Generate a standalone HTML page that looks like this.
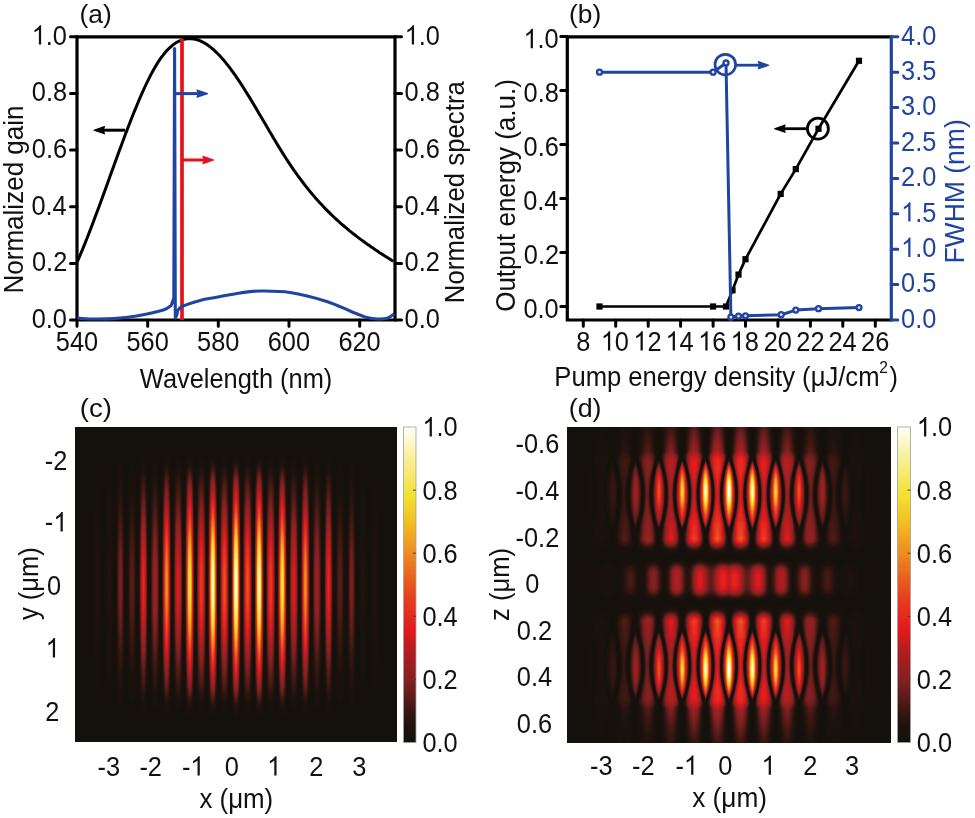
<!DOCTYPE html>
<html><head><meta charset="utf-8">
<style>
html,body{margin:0;padding:0;background:#fff;width:975px;height:818px;overflow:hidden}
body{position:relative;font-family:"Liberation Sans",sans-serif}
canvas{position:absolute;background:#14100b}
svg{position:absolute;left:0;top:0}
svg text{font-family:"Liberation Sans",sans-serif}
</style></head><body>
<canvas id="cc" width="322" height="315" style="left:75px;top:427px"></canvas>
<canvas id="cd" width="324" height="316" style="left:567px;top:427px"></canvas>
<svg width="975" height="818" viewBox="0 0 975 818">
<defs><linearGradient id="cbar" x1="0" y1="1" x2="0" y2="0">
<stop offset="0" stop-color="#14100b"/>
<stop offset="0.05" stop-color="#1e120d"/>
<stop offset="0.1" stop-color="#3a1711"/>
<stop offset="0.15" stop-color="#601c1a"/>
<stop offset="0.2" stop-color="#842022"/>
<stop offset="0.3" stop-color="#ba1c20"/>
<stop offset="0.36" stop-color="#e41a1c"/>
<stop offset="0.45" stop-color="#e63c1e"/>
<stop offset="0.52" stop-color="#e8601e"/>
<stop offset="0.6" stop-color="#ee8c20"/>
<stop offset="0.7" stop-color="#f2c022"/>
<stop offset="0.78" stop-color="#f4e030"/>
<stop offset="0.9" stop-color="#f8f098"/>
<stop offset="1" stop-color="#fffff4"/>
</linearGradient></defs>
<g fill="none" stroke="#000" stroke-width="3.2"><path d="M77,36.8H395 M77,35.2V321.6 M75.4,320H396.6 M395,35.2V321.6"/></g>
<path d="M70.5,320H77 M395,320H401.5 M70.5,263.4H77 M395,263.4H401.5 M70.5,206.7H77 M395,206.7H401.5 M70.5,150.1H77 M395,150.1H401.5 M70.5,93.4H77 M395,93.4H401.5 M70.5,36.8H77 M395,36.8H401.5 M77,320V326.2 M147.7,320V326.2 M218.3,320V326.2 M289,320V326.2 M359.7,320V326.2 " fill="none" stroke="#000" stroke-width="3.0" stroke-linecap="round"/>
<path fill="none" stroke="#000" stroke-width="3" d="M77.3,261.7 L79.3,257.1 L81.3,252.3 L83.3,247.5 L85.3,242.6 L87.3,237.5 L89.3,232.4 L91.3,227.2 L93.3,222.0 L95.3,216.6 L97.3,211.3 L99.3,205.9 L101.3,200.4 L103.3,194.9 L105.3,189.4 L107.3,183.9 L109.3,178.3 L111.3,172.8 L113.3,167.3 L115.3,161.7 L117.3,156.2 L119.3,150.8 L121.3,145.4 L123.3,140.0 L125.3,134.6 L127.3,129.4 L129.3,124.2 L131.3,119.0 L133.3,114.0 L135.3,109.1 L137.3,104.2 L139.3,99.5 L141.3,94.9 L143.3,90.4 L145.3,86.0 L147.3,81.8 L149.3,77.8 L151.3,73.9 L153.3,70.2 L155.3,66.7 L157.3,63.4 L159.3,60.3 L161.3,57.4 L163.3,54.8 L165.3,52.3 L167.3,50.1 L169.3,48.1 L171.3,46.3 L173.3,44.6 L175.3,43.2 L177.3,42.0 L179.3,41.0 L181.3,40.2 L183.3,39.5 L185.3,39.0 L187.3,38.7 L189.3,38.6 L191.3,38.7 L193.3,38.9 L195.3,39.3 L197.3,39.8 L199.3,40.5 L201.3,41.4 L203.3,42.4 L205.3,43.5 L207.3,44.8 L209.3,46.2 L211.3,47.8 L213.3,49.5 L215.3,51.3 L217.3,53.2 L219.3,55.3 L221.3,57.4 L223.3,59.7 L225.3,62.1 L227.3,64.6 L229.3,67.2 L231.3,69.8 L233.3,72.6 L235.3,75.4 L237.3,78.4 L239.3,81.3 L241.3,84.4 L243.3,87.5 L245.3,90.7 L247.3,93.9 L249.3,97.1 L251.3,100.4 L253.3,103.7 L255.3,107.1 L257.3,110.5 L259.3,113.9 L261.3,117.3 L263.3,120.7 L265.3,124.1 L267.3,127.5 L269.3,130.9 L271.3,134.3 L273.3,137.7 L275.3,141.0 L277.3,144.4 L279.3,147.6 L281.3,150.9 L283.3,154.1 L285.3,157.3 L287.3,160.4 L289.3,163.4 L291.3,166.4 L293.3,169.3 L295.3,172.2 L297.3,175.0 L299.3,177.7 L301.3,180.4 L303.3,183.0 L305.3,185.6 L307.3,188.1 L309.3,190.6 L311.3,193.0 L313.3,195.4 L315.3,197.7 L317.3,199.9 L319.3,202.2 L321.3,204.3 L323.3,206.5 L325.3,208.6 L327.3,210.6 L329.3,212.6 L331.3,214.6 L333.3,216.5 L335.3,218.4 L337.3,220.2 L339.3,222.0 L341.3,223.8 L343.3,225.5 L345.3,227.2 L347.3,228.9 L349.3,230.6 L351.3,232.2 L353.3,233.8 L355.3,235.3 L357.3,236.9 L359.3,238.4 L361.3,239.9 L363.3,241.3 L365.3,242.8 L367.3,244.2 L369.3,245.6 L371.3,247.0 L373.3,248.3 L375.3,249.7 L377.3,251.0 L379.3,252.4 L381.3,253.7 L383.3,255.0 L385.3,256.3 L387.3,257.5 L389.3,258.8 L391.3,260.1 L393.3,261.3"/>
<path d="M182,320V39" stroke="#e5111b" stroke-width="3.7" fill="none"/>
<path fill="none" stroke="#2044a0" stroke-width="3.1" stroke-linejoin="round" d="M77.3,318C79.42,318.17 83.88,318.90 90,319C96.12,319.10 106.22,319.10 114,318.6C121.78,318.10 128.48,317.43 136.7,316C144.92,314.57 157.53,311.78 163.3,310C169.07,308.22 169.97,306.08 171.3,305.3 L173.8,298 L174.6,48.5 L175.3,318 L176.7,315.3C177.37,313.97 176.82,309.77 180.7,307.3C184.58,304.83 194.02,302.17 200,300.5C205.98,298.83 209.93,298.55 216.6,297.3C223.27,296.05 232.65,294.05 240,293C247.35,291.95 252.37,291.08 260.7,291C269.03,290.92 279.00,290.77 290,292.5C301.00,294.23 316.70,298.32 326.7,301.4C336.70,304.48 343.28,308.30 350,311C356.72,313.70 362.33,316.27 367,317.6C371.67,318.93 374.50,318.93 378,319C381.50,319.07 385.25,318.92 388,318C390.75,317.08 393.42,314.25 394.5,313.5"/>
<path d="M125,130.2H102" stroke="#000" stroke-width="3" fill="none"/>
<path d="M94,130.2L104.5,126.6L103,130.2L104.5,133.8Z" fill="#000" stroke="#000" stroke-width="1.2" stroke-linejoin="round"/>
<path d="M175,93.6H199" stroke="#2044a0" stroke-width="3" fill="none"/>
<path d="M207.5,93.6L197,90L198.5,93.6L197,97.2Z" fill="#2044a0" stroke="#2044a0" stroke-width="1.2" stroke-linejoin="round"/>
<path d="M183,160H205" stroke="#e5111b" stroke-width="3" fill="none"/>
<path d="M213.5,160L203,156.4L204.5,160L203,163.6Z" fill="#e5111b" stroke="#e5111b" stroke-width="1.2" stroke-linejoin="round"/>
<text transform="translate(79.55,23.00) scale(1.0021,1)" font-size="26.4" fill="#111">(a)</text>
<text transform="translate(31.67,327.80) scale(0.9400,1)" font-size="27.0" fill="#111">0.0</text>
<text transform="translate(404.58,327.80) scale(0.9400,1)" font-size="27.0" fill="#111">0.0</text>
<text transform="translate(31.99,271.20) scale(0.9400,1)" font-size="27.0" fill="#111">0.2</text>
<text transform="translate(404.58,271.20) scale(0.9400,1)" font-size="27.0" fill="#111">0.2</text>
<text transform="translate(31.42,214.50) scale(0.9400,1)" font-size="27.0" fill="#111">0.4</text>
<text transform="translate(404.58,214.50) scale(0.9400,1)" font-size="27.0" fill="#111">0.4</text>
<text transform="translate(31.80,157.90) scale(0.9400,1)" font-size="27.0" fill="#111">0.6</text>
<text transform="translate(404.58,157.90) scale(0.9400,1)" font-size="27.0" fill="#111">0.6</text>
<text transform="translate(31.80,101.20) scale(0.9400,1)" font-size="27.0" fill="#111">0.8</text>
<text transform="translate(404.58,101.20) scale(0.9400,1)" font-size="27.0" fill="#111">0.8</text>
<text transform="translate(31.67,44.60) scale(0.9400,1)" font-size="27.0" fill="#111"> .0</text>
<path transform="translate(31.67,44.60) scale(0.9400,1) translate(0.000,0) scale(0.01318,-0.01318)" d="M763,0H583V1147Q518,1085 413,1023Q308,961 225,930V1104Q376,1175 489,1276Q602,1377 649,1472H763Z" fill="#111"/>
<text transform="translate(404.58,44.60) scale(0.9400,1)" font-size="27.0" fill="#111"> .0</text>
<path transform="translate(404.58,44.60) scale(0.9400,1) translate(0.000,0) scale(0.01318,-0.01318)" d="M763,0H583V1147Q518,1085 413,1023Q308,961 225,930V1104Q376,1175 489,1276Q602,1377 649,1472H763Z" fill="#111"/>
<text transform="translate(55.81,350.60) scale(0.9400,1)" font-size="27.0" fill="#111">540</text>
<text transform="translate(126.51,350.60) scale(0.9400,1)" font-size="27.0" fill="#111">560</text>
<text transform="translate(197.11,350.60) scale(0.9400,1)" font-size="27.0" fill="#111">580</text>
<text transform="translate(267.68,350.60) scale(0.9400,1)" font-size="27.0" fill="#111">600</text>
<text transform="translate(338.38,350.60) scale(0.9400,1)" font-size="27.0" fill="#111">620</text>
<text transform="translate(139.87,387.90) scale(0.9407,1)" font-size="27.0" fill="#111">Wavelength (nm)</text>
<text transform="translate(23.30,293.55) rotate(-90) scale(0.9646,1)" font-size="27.0" fill="#111">Normalized gain</text>
<text transform="translate(464.10,303.13) rotate(-90) scale(0.9550,1)" font-size="27.0" fill="#111">Normalized spectra</text>
<g fill="none" stroke="#000" stroke-width="3.2"><path d="M567.3,36.8H891.3 M567.3,35.2V321.6 M565.7,320H891.3"/></g>
<path d="M891.3,35.2V321.6" fill="none" stroke="#2044a0" stroke-width="3.2"/>
<path d="M560.8,306.5H567.3 M560.8,252.5H567.3 M560.8,198.5H567.3 M560.8,144.5H567.3 M560.8,90.5H567.3 M560.8,36.5H567.3 M583.3,320V326.2 M615.7,320V326.2 M648.2,320V326.2 M680.6,320V326.2 M713.1,320V326.2 M745.5,320V326.2 M777.9,320V326.2 M810.4,320V326.2 M842.8,320V326.2 M875.3,320V326.2 " fill="none" stroke="#000" stroke-width="3.0" stroke-linecap="round"/>
<path d="M891.3,320.0H897.8 M891.3,284.6H897.8 M891.3,249.2H897.8 M891.3,213.8H897.8 M891.3,178.4H897.8 M891.3,143.0H897.8 M891.3,107.6H897.8 M891.3,72.2H897.8 M891.3,36.8H897.8 " fill="none" stroke="#2044a0" stroke-width="3.0" stroke-linecap="round"/>
<path d="M599.5,306.5 L713.1,306.5 L726.0,306.5 L732.5,290.3 L738.5,274.6 L745.5,259.2 L780.7,193.9 L795.8,169.1 L818.5,128.8 L859.0,60.8" fill="none" stroke="#000" stroke-width="2.7"/>
<rect x="596.4" y="303.4" width="6.2" height="6.2" fill="#000"/>
<rect x="710.0" y="303.4" width="6.2" height="6.2" fill="#000"/>
<rect x="722.9" y="303.4" width="6.2" height="6.2" fill="#000"/>
<rect x="729.4" y="287.2" width="6.2" height="6.2" fill="#000"/>
<rect x="735.4" y="271.5" width="6.2" height="6.2" fill="#000"/>
<rect x="742.4" y="256.1" width="6.2" height="6.2" fill="#000"/>
<rect x="777.6" y="190.8" width="6.2" height="6.2" fill="#000"/>
<rect x="792.7" y="166.0" width="6.2" height="6.2" fill="#000"/>
<rect x="815.4" y="125.7" width="6.2" height="6.2" fill="#000"/>
<rect x="855.9" y="57.7" width="6.2" height="6.2" fill="#000"/>
<path d="M599.5,72.2 L713.1,72.2 L726.0,63.0 L730.9,317.2 L738.5,316.1 L745.5,315.8 L781.2,314.7 L795.8,310.1 L818.5,308.7 L859.0,307.6" fill="none" stroke="#2044a0" stroke-width="3" stroke-linejoin="round"/>
<circle cx="599.5" cy="72.2" r="2.5" fill="#e4e8f4" stroke="#2044a0" stroke-width="2.3"/>
<circle cx="713.1" cy="72.2" r="2.5" fill="#e4e8f4" stroke="#2044a0" stroke-width="2.3"/>
<circle cx="726.0" cy="63.0" r="2.5" fill="#e4e8f4" stroke="#2044a0" stroke-width="2.3"/>
<circle cx="730.9" cy="317.2" r="2.5" fill="#e4e8f4" stroke="#2044a0" stroke-width="2.3"/>
<circle cx="738.5" cy="316.1" r="2.5" fill="#e4e8f4" stroke="#2044a0" stroke-width="2.3"/>
<circle cx="745.5" cy="315.8" r="2.5" fill="#e4e8f4" stroke="#2044a0" stroke-width="2.3"/>
<circle cx="781.2" cy="314.7" r="2.5" fill="#e4e8f4" stroke="#2044a0" stroke-width="2.3"/>
<circle cx="795.8" cy="310.1" r="2.5" fill="#e4e8f4" stroke="#2044a0" stroke-width="2.3"/>
<circle cx="818.5" cy="308.7" r="2.5" fill="#e4e8f4" stroke="#2044a0" stroke-width="2.3"/>
<circle cx="859.0" cy="307.6" r="2.5" fill="#e4e8f4" stroke="#2044a0" stroke-width="2.3"/>
<circle cx="725.3" cy="64.6" r="10.3" fill="none" stroke="#2044a0" stroke-width="2.7"/>
<path d="M736,65.2H761" stroke="#2044a0" stroke-width="2.8" fill="none"/>
<path d="M768.8,65.2L758.3,61.6L759.8,65.2L758.3,68.8Z" fill="#2044a0" stroke="#2044a0" stroke-width="1.2" stroke-linejoin="round"/>
<circle cx="817.9" cy="128.7" r="10.5" fill="none" stroke="#000" stroke-width="2.8"/>
<path d="M807.5,128.7H782" stroke="#000" stroke-width="2.8" fill="none"/>
<path d="M774.6,128.7L785.1,125.1L783.6,128.7L785.1,132.3Z" fill="#000" stroke="#000" stroke-width="1.2" stroke-linejoin="round"/>
<text transform="translate(568.95,23.00) scale(0.9986,1)" font-size="26.4" fill="#111">(b)</text>
<text transform="translate(523.47,318.20) scale(0.9400,1)" font-size="27.0" fill="#111">0.0</text>
<text transform="translate(523.79,264.20) scale(0.9400,1)" font-size="27.0" fill="#111">0.2</text>
<text transform="translate(523.22,210.20) scale(0.9400,1)" font-size="27.0" fill="#111">0.4</text>
<text transform="translate(523.60,156.20) scale(0.9400,1)" font-size="27.0" fill="#111">0.6</text>
<text transform="translate(523.60,102.20) scale(0.9400,1)" font-size="27.0" fill="#111">0.8</text>
<text transform="translate(523.47,48.20) scale(0.9400,1)" font-size="27.0" fill="#111"> .0</text>
<path transform="translate(523.47,48.20) scale(0.9400,1) translate(0.000,0) scale(0.01318,-0.01318)" d="M763,0H583V1147Q518,1085 413,1023Q308,961 225,930V1104Q376,1175 489,1276Q602,1377 649,1472H763Z" fill="#111"/>
<text transform="translate(901.03,327.80) scale(0.9400,1)" font-size="27.0" fill="#2044a0">0.0</text>
<text transform="translate(901.03,292.40) scale(0.9400,1)" font-size="27.0" fill="#2044a0">0.5</text>
<text transform="translate(901.03,257.00) scale(0.9400,1)" font-size="27.0" fill="#2044a0"> .0</text>
<path transform="translate(901.03,257.00) scale(0.9400,1) translate(0.000,0) scale(0.01318,-0.01318)" d="M763,0H583V1147Q518,1085 413,1023Q308,961 225,930V1104Q376,1175 489,1276Q602,1377 649,1472H763Z" fill="#2044a0"/>
<text transform="translate(901.03,221.60) scale(0.9400,1)" font-size="27.0" fill="#2044a0"> .5</text>
<path transform="translate(901.03,221.60) scale(0.9400,1) translate(0.000,0) scale(0.01318,-0.01318)" d="M763,0H583V1147Q518,1085 413,1023Q308,961 225,930V1104Q376,1175 489,1276Q602,1377 649,1472H763Z" fill="#2044a0"/>
<text transform="translate(901.03,186.20) scale(0.9400,1)" font-size="27.0" fill="#2044a0">2.0</text>
<text transform="translate(901.03,150.80) scale(0.9400,1)" font-size="27.0" fill="#2044a0">2.5</text>
<text transform="translate(901.03,115.40) scale(0.9400,1)" font-size="27.0" fill="#2044a0">3.0</text>
<text transform="translate(901.03,80.00) scale(0.9400,1)" font-size="27.0" fill="#2044a0">3.5</text>
<text transform="translate(901.03,44.60) scale(0.9400,1)" font-size="27.0" fill="#2044a0">4.0</text>
<text transform="translate(576.26,350.60) scale(0.9400,1)" font-size="27.0" fill="#111">8</text>
<text transform="translate(600.74,350.60) scale(0.9400,1)" font-size="27.0" fill="#111"> 0</text>
<path transform="translate(600.74,350.60) scale(0.9400,1) translate(0.000,0) scale(0.01318,-0.01318)" d="M763,0H583V1147Q518,1085 413,1023Q308,961 225,930V1104Q376,1175 489,1276Q602,1377 649,1472H763Z" fill="#111"/>
<text transform="translate(633.33,350.60) scale(0.9400,1)" font-size="27.0" fill="#111"> 2</text>
<path transform="translate(633.33,350.60) scale(0.9400,1) translate(0.000,0) scale(0.01318,-0.01318)" d="M763,0H583V1147Q518,1085 413,1023Q308,961 225,930V1104Q376,1175 489,1276Q602,1377 649,1472H763Z" fill="#111"/>
<text transform="translate(665.49,350.60) scale(0.9400,1)" font-size="27.0" fill="#111"> 4</text>
<path transform="translate(665.49,350.60) scale(0.9400,1) translate(0.000,0) scale(0.01318,-0.01318)" d="M763,0H583V1147Q518,1085 413,1023Q308,961 225,930V1104Q376,1175 489,1276Q602,1377 649,1472H763Z" fill="#111"/>
<text transform="translate(698.12,350.60) scale(0.9400,1)" font-size="27.0" fill="#111"> 6</text>
<path transform="translate(698.12,350.60) scale(0.9400,1) translate(0.000,0) scale(0.01318,-0.01318)" d="M763,0H583V1147Q518,1085 413,1023Q308,961 225,930V1104Q376,1175 489,1276Q602,1377 649,1472H763Z" fill="#111"/>
<text transform="translate(730.56,350.60) scale(0.9400,1)" font-size="27.0" fill="#111"> 8</text>
<path transform="translate(730.56,350.60) scale(0.9400,1) translate(0.000,0) scale(0.01318,-0.01318)" d="M763,0H583V1147Q518,1085 413,1023Q308,961 225,930V1104Q376,1175 489,1276Q602,1377 649,1472H763Z" fill="#111"/>
<text transform="translate(763.70,350.60) scale(0.9400,1)" font-size="27.0" fill="#111">20</text>
<text transform="translate(796.29,350.60) scale(0.9400,1)" font-size="27.0" fill="#111">22</text>
<text transform="translate(828.45,350.60) scale(0.9400,1)" font-size="27.0" fill="#111">24</text>
<text transform="translate(861.08,350.60) scale(0.9400,1)" font-size="27.0" fill="#111">26</text>
<text transform="translate(554.29,385.60) scale(0.9495,1)" font-size="27.0" fill="#111">Pump energy density (μJ/cm</text>
<text transform="translate(879.22,373.30) scale(1.0003,1)" font-size="15.6" fill="#111">2</text>
<text transform="translate(889.51,385.60) scale(0.9400,1)" font-size="27.0" fill="#111">)</text>
<text transform="translate(514.60,311.84) rotate(-90) scale(0.9638,1)" font-size="27.0" fill="#111">Output energy (a.u.)</text>
<text transform="translate(964.00,263.59) rotate(-90) scale(0.9825,1)" font-size="27.0" fill="#2044a0">FWHM (nm)</text>
<text transform="translate(79.77,416.50) scale(1.0464,1)" font-size="26.4" fill="#111">(c)</text>
<rect x="403.5" y="427" width="12.5" height="315.5" fill="url(#cbar)" stroke="#a0a0a0" stroke-width="0.8"/>
<path d="M413.0,679.4H416.0 M413.0,616.3H416.0 M413.0,553.2H416.0 M413.0,490.1H416.0 " stroke="#444" stroke-width="1"/>
<text transform="translate(422.41,751.90) scale(0.9400,1)" font-size="27.0" fill="#111">0.0</text>
<text transform="translate(422.41,688.80) scale(0.9400,1)" font-size="27.0" fill="#111">0.2</text>
<text transform="translate(422.41,625.70) scale(0.9400,1)" font-size="27.0" fill="#111">0.4</text>
<text transform="translate(422.41,562.60) scale(0.9400,1)" font-size="27.0" fill="#111">0.6</text>
<text transform="translate(422.41,499.50) scale(0.9400,1)" font-size="27.0" fill="#111">0.8</text>
<text transform="translate(422.41,436.40) scale(0.9400,1)" font-size="27.0" fill="#111"> .0</text>
<path transform="translate(422.41,436.40) scale(0.9400,1) translate(0.000,0) scale(0.01318,-0.01318)" d="M763,0H583V1147Q518,1085 413,1023Q308,961 225,930V1104Q376,1175 489,1276Q602,1377 649,1472H763Z" fill="#111"/>
<text transform="translate(97.61,775.60) scale(0.9400,1)" font-size="27.0" fill="#111">-3</text>
<text transform="translate(139.40,775.60) scale(0.9400,1)" font-size="27.0" fill="#111">-2</text>
<text transform="translate(181.88,775.60) scale(0.9400,1)" font-size="27.0" fill="#111">- </text>
<path transform="translate(181.88,775.60) scale(0.9400,1) translate(8.991,0) scale(0.01318,-0.01318)" d="M763,0H583V1147Q518,1085 413,1023Q308,961 225,930V1104Q376,1175 489,1276Q602,1377 649,1472H763Z" fill="#111"/>
<text transform="translate(224.73,775.60) scale(0.9400,1)" font-size="27.0" fill="#111">0</text>
<path transform="translate(267.08,775.60) scale(0.9400,1) translate(0.000,0) scale(0.01318,-0.01318)" d="M763,0H583V1147Q518,1085 413,1023Q308,961 225,930V1104Q376,1175 489,1276Q602,1377 649,1472H763Z" fill="#111"/>
<text transform="translate(309.16,775.60) scale(0.9400,1)" font-size="27.0" fill="#111">2</text>
<text transform="translate(352.27,775.60) scale(0.9400,1)" font-size="27.0" fill="#111">3</text>
<text transform="translate(199.38,807.80) scale(0.9592,1)" font-size="27.0" fill="#111">x (μm)</text>
<text transform="translate(44.86,469.90) scale(0.9400,1)" font-size="27.0" fill="#111">-2</text>
<text transform="translate(44.86,531.40) scale(0.9400,1)" font-size="27.0" fill="#111">- </text>
<path transform="translate(44.86,531.40) scale(0.9400,1) translate(8.991,0) scale(0.01318,-0.01318)" d="M763,0H583V1147Q518,1085 413,1023Q308,961 225,930V1104Q376,1175 489,1276Q602,1377 649,1472H763Z" fill="#111"/>
<text transform="translate(46.98,595.20) scale(0.9400,1)" font-size="27.0" fill="#111">0</text>
<path transform="translate(45.61,657.40) scale(0.9400,1) translate(0.000,0) scale(0.01318,-0.01318)" d="M763,0H583V1147Q518,1085 413,1023Q308,961 225,930V1104Q376,1175 489,1276Q602,1377 649,1472H763Z" fill="#111"/>
<text transform="translate(45.13,720.60) scale(0.9400,1)" font-size="27.0" fill="#111">2</text>
<text transform="translate(37.60,620.06) rotate(-90) scale(0.9452,1)" font-size="27.0" fill="#111">y (μm)</text>
<text transform="translate(568.72,416.50) scale(1.0158,1)" font-size="26.4" fill="#111">(d)</text>
<rect x="897.5" y="427" width="13" height="315.5" fill="url(#cbar)" stroke="#a0a0a0" stroke-width="0.8"/>
<path d="M907.5,679.4H910.5 M907.5,616.3H910.5 M907.5,553.2H910.5 M907.5,490.1H910.5 " stroke="#444" stroke-width="1"/>
<text transform="translate(916.81,751.90) scale(0.9400,1)" font-size="27.0" fill="#111">0.0</text>
<text transform="translate(916.81,688.80) scale(0.9400,1)" font-size="27.0" fill="#111">0.2</text>
<text transform="translate(916.81,625.70) scale(0.9400,1)" font-size="27.0" fill="#111">0.4</text>
<text transform="translate(916.81,562.60) scale(0.9400,1)" font-size="27.0" fill="#111">0.6</text>
<text transform="translate(916.81,499.50) scale(0.9400,1)" font-size="27.0" fill="#111">0.8</text>
<text transform="translate(916.81,436.40) scale(0.9400,1)" font-size="27.0" fill="#111"> .0</text>
<path transform="translate(916.81,436.40) scale(0.9400,1) translate(0.000,0) scale(0.01318,-0.01318)" d="M763,0H583V1147Q518,1085 413,1023Q308,961 225,930V1104Q376,1175 489,1276Q602,1377 649,1472H763Z" fill="#111"/>
<text transform="translate(590.01,774.80) scale(0.9400,1)" font-size="27.0" fill="#111">-3</text>
<text transform="translate(632.10,774.80) scale(0.9400,1)" font-size="27.0" fill="#111">-2</text>
<text transform="translate(675.48,774.80) scale(0.9400,1)" font-size="27.0" fill="#111">- </text>
<path transform="translate(675.48,774.80) scale(0.9400,1) translate(8.991,0) scale(0.01318,-0.01318)" d="M763,0H583V1147Q518,1085 413,1023Q308,961 225,930V1104Q376,1175 489,1276Q602,1377 649,1472H763Z" fill="#111"/>
<text transform="translate(718.23,774.80) scale(0.9400,1)" font-size="27.0" fill="#111">0</text>
<path transform="translate(761.48,774.80) scale(0.9400,1) translate(0.000,0) scale(0.01318,-0.01318)" d="M763,0H583V1147Q518,1085 413,1023Q308,961 225,930V1104Q376,1175 489,1276Q602,1377 649,1472H763Z" fill="#111"/>
<text transform="translate(803.26,774.80) scale(0.9400,1)" font-size="27.0" fill="#111">2</text>
<text transform="translate(845.02,774.80) scale(0.9400,1)" font-size="27.0" fill="#111">3</text>
<text transform="translate(692.17,807.00) scale(0.9739,1)" font-size="27.0" fill="#111">x (μm)</text>
<text transform="translate(515.56,453.40) scale(0.9400,1)" font-size="27.0" fill="#111">-0.6</text>
<text transform="translate(515.56,500.40) scale(0.9400,1)" font-size="27.0" fill="#111">-0.4</text>
<text transform="translate(515.56,547.40) scale(0.9400,1)" font-size="27.0" fill="#111">-0.2</text>
<text transform="translate(525.18,592.90) scale(0.9400,1)" font-size="27.0" fill="#111">0</text>
<text transform="translate(516.78,639.80) scale(0.9400,1)" font-size="27.0" fill="#111">0.2</text>
<text transform="translate(516.78,686.40) scale(0.9400,1)" font-size="27.0" fill="#111">0.4</text>
<text transform="translate(516.78,733.20) scale(0.9400,1)" font-size="27.0" fill="#111">0.6</text>
<text transform="translate(508.50,621.02) rotate(-90) scale(0.9486,1)" font-size="27.0" fill="#111">z (μm)</text>
</svg>
<script>
(function(){
var CM=[[0, 20, 16, 11], [0.05, 30, 18, 13], [0.1, 58, 23, 17], [0.15, 96, 28, 26], [0.2, 132, 32, 34], [0.3, 186, 28, 32], [0.36, 228, 26, 28], [0.45, 230, 60, 30], [0.52, 232, 96, 30], [0.6, 238, 140, 32], [0.7, 242, 192, 34], [0.78, 244, 224, 48], [0.9, 248, 240, 152], [1, 255, 255, 244]];
function cmap(v){
  if(v<=0)return CM[0];if(v>=1)return CM[CM.length-1];
  for(var i=1;i<CM.length;i++){if(v<=CM[i][0]){var a=CM[i-1],b=CM[i],t=(v-a[0])/(b[0]-a[0]);
    return [0,a[1]+(b[1]-a[1])*t,a[2]+(b[2]-a[2])*t,a[3]+(b[3]-a[3])*t];}}
}
function draw(id,ox,oy,f){
  var c=document.getElementById(id),ctx=c.getContext('2d'),W=c.width,H=c.height;
  var im=ctx.createImageData(W,H),D=im.data;
  for(var j=0;j<H;j++)for(var i=0;i<W;i++){
    var v=f(ox+i+0.5,oy+j+0.5),col=cmap(v),k=(j*W+i)*4;
    D[k]=col[1];D[k+1]=col[2];D[k+2]=col[3];D[k+3]=255;
  }
  ctx.putImageData(im,0,0);
}
draw('cc',75,427,function(x,y){
  var dx=x-236,dy=y-585,ady=Math.abs(dy);
  var ex=Math.abs(dx)<163?Math.cos(Math.PI*dx/326):0;
  var tp=ady<98?1:(ady>142?0:Math.cos(Math.PI/2*(ady-98)/44));
  var env=ex*ex*Math.exp(-dy*dy/(2*62*62))*tp*tp;
  var th=Math.PI*dx/11.58,c=Math.cos(th),c2=Math.cos(th/2);
  return env*c*c*(0.5+0.5*c2*c2);
}
);
draw('cd',567,427,function(x,y){
  var dx=x-729,zu=Math.abs(y-580),p=23.4;
  var th=2*Math.PI*dx/p;
  th=th-2*Math.PI*Math.round(th/(2*Math.PI));
  var at=Math.abs(th);
  var B;
  if(zu<42){B=0.76*Math.exp(-(zu-42)*(zu-42)/(2*9*9));}
  else if(zu<60){B=0.76-0.11*(zu-42)/18;}
  else if(zu<120){B=0.65;}
  else {B=0.65-0.22*(zu-120)/33;}
  var w=0; if(zu>=86){var u=(zu-86)/38; w=u<1?2.0*(1-u*u):0;} else {var u=(86-zu)/40; w=u<1?2.0*(1-u*u):0;}
  var t1=(zu-45)/17; t1=t1<0?0:(t1>1?1:t1); t1=t1*t1*(3-2*t1);
  var t2=(130-zu)/22; t2=t2<0?0:(t2>1?1:t2); t2=t2*t2*(3-2*t2);
  var k=zu<60?(0.6+0.9*t1):(0.5+1.0*t2);
  var zs=zu-89;
  var S=0.38*Math.exp(-zs*zs/(2*15*15));
  var ea=Math.abs(dx)<152?Math.cos(Math.PI*dx/304):0;
  var eb=Math.abs(dx)<158?Math.cos(Math.PI*dx/316):0;
  var E=B*Math.tanh(k*(w-at))*eb+S*Math.exp(-th*th/(2*0.55*0.55))*ea*ea;
  var I1=E*E;
  var sgn=dx<0?-1:1;
  var c0=0.4*Math.exp(-dx*dx/(2*22*22))+0.12;
  var pat=c0+(1-c0)*0.5*(1+Math.cos(th-sgn*Math.PI/2));
  var q=zu/16;
  var G=0.62*Math.exp(-0.5*q*q*q*q)*eb*Math.sqrt(pat);
  return I1+G*G;
}
);
})();
</script>
</body></html>
